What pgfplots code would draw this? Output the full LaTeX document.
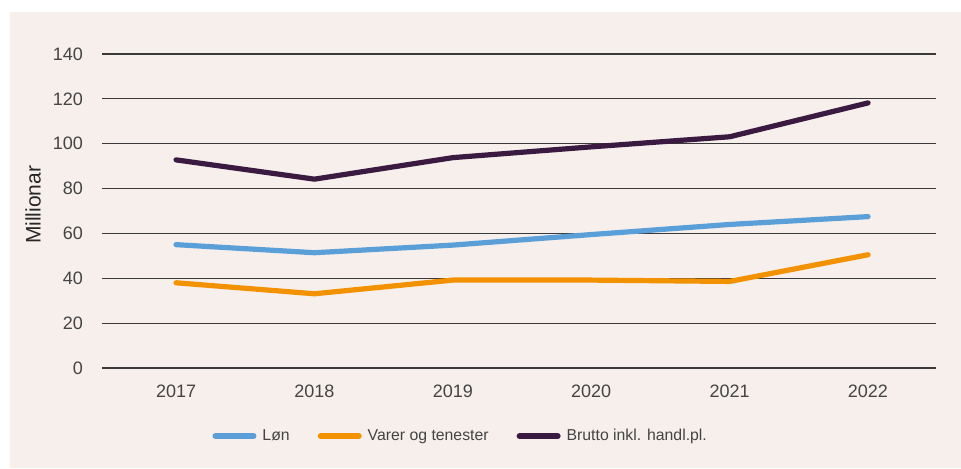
\documentclass[border=0pt]{standalone}
\usepackage{pgfplots}
\pgfplotsset{compat=1.18}
\usepackage{fontspec}
\setmainfont{Liberation Sans}
\definecolor{bg}{HTML}{F6EFEC}
\definecolor{lonc}{HTML}{5A9FD8}
\definecolor{varc}{HTML}{F39200}
\definecolor{bruc}{HTML}{3A1A40}
\definecolor{gridc}{HTML}{3A3A3A}
\definecolor{txt}{HTML}{444444}
\begin{document}
\begin{tikzpicture}
\fill[white] (0,0) rectangle (480.5pt,234pt);
\fill[bg] (5pt,0) rectangle (480.5pt,228pt);
\begin{axis}[
  at={(51pt,50pt)}, anchor=south west,
  scale only axis, width=417pt, height=157pt,
  xmin=2016.465, xmax=2022.491, ymin=0, ymax=140,
  xtick={2017,...,2022}, ytick={0,20,...,140},
  xticklabel style={/pgf/number format/1000 sep={}},
  /pgf/number format/assume math mode=true,
  ticklabel style={font=\fontsize{9}{10}\selectfont, text=txt},
  major tick length=0,
  axis line style={draw=none},
  ymajorgrids, grid style={gridc, line width=0.6pt},
  yticklabel style={xshift=-6pt},
  xticklabel style={yshift=-5pt},
  ylabel={Millionar},
  ylabel style={font=\fontsize{10.5}{12}\selectfont, text=black!85, at={(axis description cs:-0.0827,0.52)}, anchor=center},
  every axis plot/.append style={line width=2.6pt, line join=round, line cap=round},
  legend columns=3,
  legend style={at={(axis description cs:0.132,-0.217)}, anchor=west, draw=none, fill=none,
    font=\fontsize{7.9}{10}\selectfont, text=txt, inner sep=0pt,
    /tikz/every odd column/.append style={column sep=1pt},
    /tikz/every even column/.append style={column sep=12pt}},
  legend image code/.code={\draw[#1, line width=3pt, line cap=round] (0pt,0pt) -- (19pt,0pt);},
]
\addplot[lonc] coordinates {(2017,55.0) (2018,51.4) (2019,54.8) (2020,59.5) (2021,64.0) (2022,67.5)};
\addlegendentry{Løn}
\addplot[varc] coordinates {(2017,38.0) (2018,33.1) (2019,39.2) (2020,39.2) (2021,38.6) (2022,50.5)};
\addlegendentry{Varer og tenester}
\addplot[bruc] coordinates {(2017,92.8) (2018,84.2) (2019,93.8) (2020,98.6) (2021,103.1) (2022,118.2)};
\addlegendentry{Brutto inkl. handl.pl.}
\end{axis}
\end{tikzpicture}
\end{document}
